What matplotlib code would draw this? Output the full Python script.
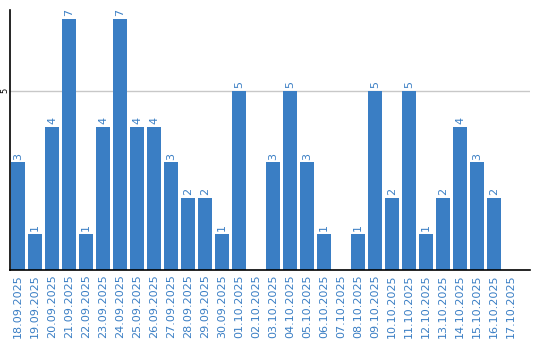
import matplotlib
matplotlib.use("Agg")
import matplotlib.pyplot as plt

dates = [
    "18.09.2025", "19.09.2025", "20.09.2025", "21.09.2025", "22.09.2025",
    "23.09.2025", "24.09.2025", "25.09.2025", "26.09.2025", "27.09.2025",
    "28.09.2025", "29.09.2025", "30.09.2025", "01.10.2025", "02.10.2025",
    "03.10.2025", "04.10.2025", "05.10.2025", "06.10.2025", "07.10.2025",
    "08.10.2025", "09.10.2025", "10.10.2025", "11.10.2025", "12.10.2025",
    "13.10.2025", "14.10.2025", "15.10.2025", "16.10.2025", "17.10.2025",
]
counts = [3, 1, 4, 7, 1, 4, 7, 4, 4, 3, 2, 2, 1, 5, 0,
          3, 5, 3, 1, 0, 1, 5, 2, 5, 1, 2, 4, 3, 2, 0]

blue = "#3a7ec4"

fig = plt.figure(figsize=(5.4, 3.4), dpi=100)
ax = fig.add_axes([0.0185, 0.206, 0.963, 0.765])

x = list(range(len(dates)))
ax.bar(x, counts, width=0.82, color=blue, zorder=2)
for i, v in zip(x, counts):
    if v > 0:
        ax.text(i, v + 0.08, str(v), rotation=90, ha="center", va="bottom",
                color=blue, fontsize=8)

ax.set_xlim(-0.47, 30.1)
ax.set_ylim(0, 7.26)
ax.set_yticks([5])
ax.set_yticklabels(["5"], rotation=90, va="center", fontsize=6)
ax.axhline(5, color="#c8c8c8", lw=1, zorder=1)
ax.tick_params(axis="y", length=0, pad=0.5)
ax.set_xticks(x)
ax.set_xticklabels(dates, rotation=90, color=blue, fontsize=8)
ax.tick_params(axis="x", length=0, pad=3)

for side in ["top", "right"]:
    ax.spines[side].set_visible(False)
ax.spines["left"].set_linewidth(1.2)
ax.spines["bottom"].set_linewidth(1.2)

fig.savefig("out.png", dpi=100)
